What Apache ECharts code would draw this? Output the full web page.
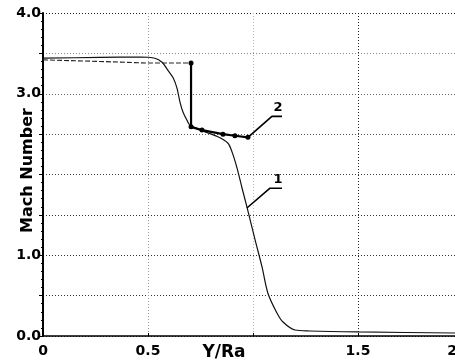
<!DOCTYPE html>
<html>
<head>
<meta charset="utf-8">
<script src="https://cdn.jsdelivr.net/npm/echarts@6/dist/echarts.min.js"></script>
<style>html,body{margin:0;padding:0;background:#fff;}#c{width:455px;height:362px;}</style>
</head>
<body>
<div id="c"></div>
<script>
// Curve 1 (thin line)
const curve1X = [0, 0.27, 0.462, 0.533, 0.567, 0.595, 0.619, 0.638, 0.652, 0.667, 0.686, 0.70, 0.76, 0.83, 0.88, 0.90, 0.924, 0.948, 0.971, 1.01, 1.043, 1.071, 1.114, 1.143, 1.2, 1.271, 1.5, 1.96, 2.0];
const curve1Y = [3.44, 3.45, 3.455, 3.44, 3.39, 3.29, 3.20, 3.07, 2.90, 2.77, 2.67, 2.61, 2.54, 2.47, 2.39, 2.28, 2.08, 1.83, 1.60, 1.19, 0.855, 0.53, 0.285, 0.173, 0.074, 0.062, 0.05, 0.037, 0.035];
// Curve 2: upstream (dashed) part
const curve2TopX = [0, 0.27, 0.5, 0.705];
const curve2TopY = [3.42, 3.40, 3.38, 3.38];
// Curve 2: shock + downstream part (with markers)
const curve2X = [0.705, 0.705, 0.757, 0.857, 0.914, 0.976];
const curve2Y = [3.38, 2.59, 2.55, 2.50, 2.48, 2.46];
// Callout leaders
const callout1X = [0.971, 1.081, 1.138];
const callout1Y = [1.585, 1.83, 1.83];
const callout2X = [0.976, 1.09, 1.138];
const callout2Y = [2.46, 2.72, 2.72];
const calloutLabels = ['1', '2'];
// Axis tick labels
const yTickLabels = {0: '0.0', 1: '1.0', 3: '3.0', 4: '4.0'};
const xTickLabels = {0: '0', 0.5: '0.5', 1.5: '1.5', 2: '2'};

const pairs = (xs, ys) => xs.map((x, i) => [x, ys[i]]);
const FONT = 'DejaVu Sans';

const chart = echarts.init(document.getElementById('c'));
const calloutSeries = (xs, ys, label) => ({
  type: 'line',
  data: pairs(xs, ys).map((p, i, arr) => i === arr.length - 1 ? {
    value: p,
    label: {show: true, formatter: label, position: 'top', offset: [-4, 3],
      fontFamily: FONT, fontWeight: 'bold', fontSize: 13, color: '#000'}
  } : p),
  showSymbol: true, symbol: 'circle', symbolSize: 0.1,
  itemStyle: {color: '#000'},
  lineStyle: {color: '#000', width: 1.6},
  silent: true, z: 5
});

chart.setOption({
  animation: false,
  backgroundColor: '#fff',
  grid: {left: 43, top: 13, right: -8, bottom: 26, outerBoundsMode: 'none', containLabel: false},
  xAxis: {
    type: 'value', min: 0, max: 2, interval: 0.5, offset: 3,
    axisLine: {show: true, lineStyle: {color: '#000', width: 1.5}},
    axisTick: {show: true, inside: true, length: 3, lineStyle: {color: '#000'}},
    axisLabel: {
      margin: 5, fontFamily: FONT, fontWeight: 'bold', fontSize: 14, color: '#000',
      formatter: v => v === 2 ? '{r|2}' : (xTickLabels[v] !== undefined ? xTickLabels[v] : ''),
      rich: {r: {padding: [0, 22, 0, 0], fontFamily: FONT, fontWeight: 'bold', fontSize: 14, color: '#000'}}
    },
    name: 'Y/Ra', nameLocation: 'middle', nameGap: 5, nameMoveOverlap: false,
    nameTextStyle: {fontFamily: FONT, fontWeight: 'bold', fontSize: 17, color: '#000', padding: [0, 58, 0, 0]},
    splitLine: {show: true, lineStyle: {color: ['#000', '#999', '#bbb', '#222', '#000'], type: [1, 2], width: 1}}
  },
  yAxis: {
    type: 'value', min: 0, max: 4, interval: 0.5,
    axisLine: {show: true, lineStyle: {color: '#000', width: 2}},
    axisTick: {show: true, length: 4, lineStyle: {color: '#000'}},
    minorTick: {show: true, splitNumber: 5, length: 2, lineStyle: {color: '#000'}},
    axisLabel: {
      margin: 2, fontFamily: FONT, fontWeight: 'bold', fontSize: 14, color: '#000',
      formatter: v => yTickLabels[v] !== undefined ? yTickLabels[v] : ''
    },
    name: 'Mach Number', nameLocation: 'middle', nameGap: 7, nameMoveOverlap: false,
    nameTextStyle: {fontFamily: FONT, fontWeight: 'bold', fontSize: 16, color: '#000', padding: [0, 0, 0, 8]},
    splitLine: {show: true, lineStyle: {color: ['#222', '#333', '#333', '#333', '#444', '#555', '#666', '#888', '#222'], type: [1, 2], width: 1}}
  },
  series: [
    {
      type: 'line', data: pairs(curve1X, curve1Y), smooth: 0.3, showSymbol: false, symbol: 'none',
      lineStyle: {color: '#111', width: 1.2}, z: 3
    },
    {
      type: 'line', data: pairs(curve2TopX, curve2TopY), showSymbol: false, symbol: 'none',
      lineStyle: {color: '#222', width: 1.1, type: [5, 2]}, z: 3
    },
    {
      type: 'line', data: pairs(curve2X, curve2Y), symbol: 'circle', symbolSize: 5, showSymbol: true,
      itemStyle: {color: '#000'}, lineStyle: {color: '#000', width: 2.2}, z: 4
    },
    calloutSeries(callout1X, callout1Y, calloutLabels[0]),
    calloutSeries(callout2X, callout2Y, calloutLabels[1])
  ]
});
</script>
</body>
</html>
